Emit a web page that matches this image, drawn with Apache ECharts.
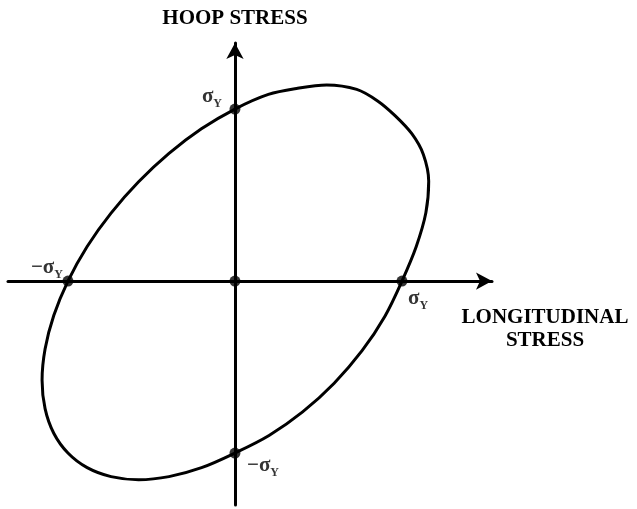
<!DOCTYPE html>
<html>
<head>
<meta charset="utf-8">
<script src="https://cdn.jsdelivr.net/npm/echarts@6/dist/echarts.min.js"></script>
<style>
  html, body { margin: 0; padding: 0; background: #fff; }
  #chart { width: 637px; height: 509px; }
</style>
</head>
<body>
<div id="chart"></div>
<script>
// Yield locus (stresses in units of the yield stress), traced counter-clockwise from (1, 0)
const yieldLongitudinal = [
  1.000, 1.085, 1.143, 1.160, 1.128, 1.060, 0.960, 0.854, 0.729, 0.549, 0.369, 0.200, 0.000,
  -0.201, -0.395, -0.577, -0.742, -0.885, -1.000,
  -1.085, -1.137, -1.155, -1.137, -1.085, -1.000, -0.885, -0.742, -0.577, -0.395, -0.200, 0.000,
  0.204, 0.405, 0.594, 0.761, 0.898, 1.000
];
const yieldHoop = [
  0.000, 0.200, 0.397, 0.580, 0.736, 0.855, 0.960, 1.047, 1.114, 1.140, 1.120, 1.085, 1.000,
  0.885, 0.742, 0.577, 0.395, 0.201, 0.000,
  -0.200, -0.395, -0.577, -0.742, -0.885, -1.000, -1.085, -1.137, -1.155, -1.137, -1.085, -1.000,
  -0.898, -0.761, -0.594, -0.405, -0.204, 0.000
];

// Marked points: origin and the four axis intercepts
const pointLongitudinal = [0, 1, 0, -1, 0];
const pointHoop = [0, 0, 1, 0, -1];
const pointLabels = ['', 'σY', 'σY', '−σY', '−σY'];

const axisTitleX = 'LONGITUDINAL\nSTRESS';
const axisTitleY = 'HOOP STRESS';

// label placement around each dot (offset from the dot's box, alignment)
const labelPlacement = [
  null,
  { position: [11.5, 13.5], align: 'left' },
  { position: [-7.5, -16.5], align: 'right' },
  { position: [0.5, -17.5], align: 'right' },
  { position: [17.5, 8.5], align: 'left' }
];

const serif = '"Liberation Serif", "Times New Roman", serif';

function richLabel(text) {
  if (!text) return '';
  const main = text.slice(0, -1);
  const sub = text.slice(-1);
  return '{s|' + main + '}{y|' + sub + '}';
}

const curveData = yieldLongitudinal.map((x, i) => [x, yieldHoop[i]]);
const pointData = pointLongitudinal.map((x, i) => {
  const item = { value: [x, pointHoop[i]] };
  const p = labelPlacement[i];
  if (p && pointLabels[i]) {
    item.label = {
      show: true,
      formatter: richLabel(pointLabels[i]),
      position: p.position,
      align: p.align,
      verticalAlign: 'top'
    };
  }
  return item;
});

const axisLineStyle = { color: '#000', width: 3 };

const chart = echarts.init(document.getElementById('chart'), null, { renderer: 'canvas' });
chart.setOption({
  backgroundColor: '#fff',
  animation: false,
  grid: { left: 8, right: 145, top: 43, bottom: 4 },
  xAxis: {
    type: 'value',
    min: -1.359,
    max: 1.539,
    name: axisTitleX,
    nameLocation: 'end',
    nameGap: 53,
    nameTextStyle: {
      fontFamily: serif, fontWeight: 'bold', fontSize: 21, color: '#000',
      align: 'center', verticalAlign: 'top', lineHeight: 23, padding: [25, 0, 0, 0]
    },
    axisLine: {
      onZero: true,
      symbol: ['none', 'arrow'],
      symbolSize: [13, 16],
      lineStyle: axisLineStyle
    },
    axisTick: { show: false },
    axisLabel: { show: false },
    splitLine: { show: false }
  },
  yAxis: {
    type: 'value',
    min: -1.302,
    max: 1.384,
    name: axisTitleY,
    nameLocation: 'end',
    nameGap: 14,
    nameTextStyle: {
      fontFamily: serif, fontWeight: 'bold', fontSize: 21, color: '#000',
      align: 'center', verticalAlign: 'bottom'
    },
    axisLine: {
      onZero: true,
      symbol: ['none', 'arrow'],
      symbolSize: [13, 16],
      lineStyle: axisLineStyle
    },
    axisTick: { show: false },
    axisLabel: { show: false },
    splitLine: { show: false }
  },
  series: [
    {
      type: 'line',
      data: curveData,
      smooth: 0.33,
      symbol: 'none',
      lineStyle: { color: '#000', width: 3 },
      z: 3
    },
    {
      type: 'scatter',
      data: pointData,
      symbol: 'circle',
      symbolSize: 11,
      itemStyle: { color: '#000' },
      label: {
        show: false,
        color: '#000',
        rich: {
          s: { fontFamily: serif, fontWeight: 'bold', fontSize: 21, lineHeight: 20, color: '#000', verticalAlign: 'bottom' },
          y: { fontFamily: serif, fontWeight: 'bold', fontSize: 12, lineHeight: 20, color: '#000', verticalAlign: 'bottom', padding: [0, 0, -3, 0] }
        }
      },
      z: 4
    }
  ]
});
</script>
</body>
</html>
